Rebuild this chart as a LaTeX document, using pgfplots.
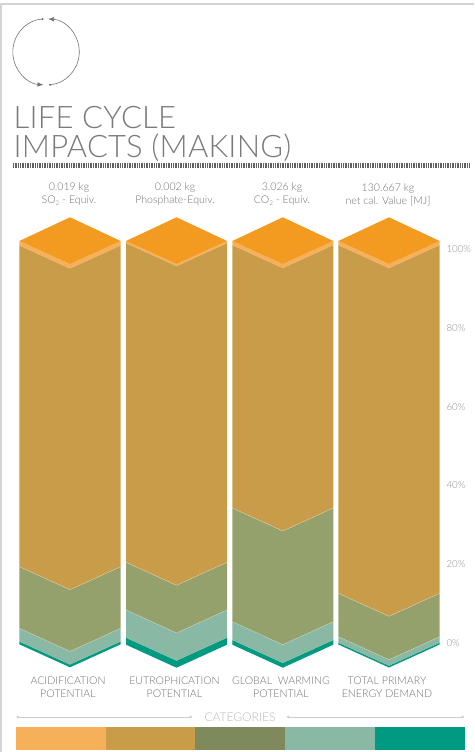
\documentclass[border=0pt]{standalone}
\usepackage{fontspec}
\setmainfont{Lato}
\newfontfamily\thinf[LetterSpace=0.7]{Lato Light}
\newfontfamily\bodyf{Lato Light}
\usepackage{pgfplots}
\pgfplotsset{compat=1.18}
\usetikzlibrary{arrows.meta}
\definecolor{ctop}{HTML}{F39A21}
\definecolor{cband}{HTML}{F6B05A}
\definecolor{ctan}{HTML}{C99C4A}
\definecolor{cgreen}{HTML}{95A16D}
\definecolor{cgreenl}{HTML}{7F8A5C}
\definecolor{clight}{HTML}{89B9A5}
\definecolor{cteal}{HTML}{009A80}
\definecolor{ctxt}{HTML}{707070}
\newcommand\sub[1]{\raisebox{-0.35ex}{\scalebox{0.6}{#1}}}
\tikzset{lab/.style={align=center,inner sep=0,text=ctxt,font=\bodyf\fontsize{10.6}{13}\selectfont}}
\pgfplotsset{seam/.style={draw=white,draw opacity=0.45,line width=0.35pt,fill=none,forget plot}}
\begin{document}
\begin{tikzpicture}
\useasboundingbox (0,0) rectangle (474pt,752pt);
% page furniture in pixel coordinates
\begin{axis}[scale only axis,width=474pt,height=752pt,xmin=0,xmax=474,ymin=0,ymax=752,y dir=reverse,hide axis,clip=false,
  area style,enlargelimits=false]
\addplot[draw=none,fill=cband] coordinates {(16,727)(106,727)(106,750)(16,750)} --cycle;
\addplot[draw=none,fill=ctan] coordinates {(106,727)(195,727)(195,750)(106,750)} --cycle;
\addplot[draw=none,fill=cgreenl] coordinates {(195,727)(285,727)(285,750)(195,750)} --cycle;
\addplot[draw=none,fill=clight] coordinates {(285,727)(375,727)(375,750)(285,750)} --cycle;
\addplot[draw=none,fill=cteal] coordinates {(375,727)(465,727)(465,750)(375,750)} --cycle;
\draw[black!17,line width=1.6pt] (1,752)--(1,4)--(474,4);
\draw[black!55,line width=0.6pt,{Latex[length=6pt,width=4.5pt]}-{Circle[length=2pt]}] (48,19) arc[start angle=87,end angle=-85,radius=33pt];
\draw[black!55,line width=0.6pt,{Circle[length=2pt]}-{Latex[length=6pt,width=4.5pt]}] (43.5,19) arc[start angle=94,end angle=266,radius=33pt];
\node[anchor=base west,inner sep=0,text=black!52,font=\thinf\fontsize{31}{31}\selectfont] at (13.5,128) {LIFE CYCLE};
\node[anchor=base west,inner sep=0,text=black!52,font=\thinf\fontsize{31}{31}\selectfont] at (13.5,157) {IMPACTS (MAKING)};
\draw[black!62,line width=5.5pt,dash pattern=on 0.9pt off 0.8pt] (13,165.7)--(470,165.7);
\node[lab] at (69,194.5) {0.019 kg\\SO\sub{2} - Equiv.};
\node[lab] at (175,194.5) {0.002 kg\\Phosphate-Equiv.};
\node[lab] at (282,194.5) {3.026 kg\\CO\sub{2} - Equiv.};
\node[lab] at (388,194.5) {130.667 kg\\net cal. Value [MJ]};
\node[lab] at (68,687.5) {ACIDIFICATION\\POTENTIAL};
\node[lab] at (174.5,687.5) {EUTROPHICATION\\POTENTIAL};
\node[lab] at (281,687.5) {GLOBAL\ \ WARMING\\POTENTIAL};
\node[lab] at (387,687.5) {TOTAL PRIMARY\\ENERGY DEMAND};
\draw[black!20,line width=1pt,{Circle[length=2.5pt]}-{Circle[length=2.5pt]}] (16.5,717)--(192,717);
\draw[black!20,line width=1pt,{Circle[length=2.5pt]}-{Circle[length=2.5pt]}] (287,717)--(464,717);
\node[inner sep=0,text=black!28,font=\bodyf\fontsize{12}{12}\selectfont] at (240,717) {CATEGORIES};
\end{axis}
% the columns: x in pixels, y in percent
\begin{axis}[scale only axis,width=474pt,height=752pt,xmin=0,xmax=474,ymin=-27.665,ymax=163.2,
  axis line style={draw=none},tick style={draw=none},xtick=\empty,
  ytick={0,20,40,60,80,100},yticklabel pos=right,
  yticklabel={\pgfmathprintnumber{\tick}\%},
  /pgf/number format/assume math mode=true,
  yticklabel style={anchor=west,xshift=-31pt,text=black!45,font=\bodyf\fontsize{9.7}{10}\selectfont},
  clip=false,area style,enlargelimits=false]
% column 1
\addplot[draw=none,fill=cteal] coordinates {(19.3,-0.33)(19.3,0.38)(70,-5.46)(120.7,0.38)(120.7,-0.33)(70,-6.17)} --cycle;
\addplot[draw=none,fill=clight] coordinates {(19.3,0.38)(19.3,3.73)(70,-2.11)(120.7,3.73)(120.7,0.38)(70,-5.46)} --cycle;
\addplot[draw=none,fill=cgreen] coordinates {(19.3,3.73)(19.3,19.37)(70,13.53)(120.7,19.37)(120.7,3.73)(70,-2.11)} --cycle;
\addplot[draw=none,fill=ctan] coordinates {(19.3,19.37)(19.3,100.9)(70,95.06)(120.7,100.9)(120.7,19.37)(70,13.53)} --cycle;
\addplot[draw=none,fill=cband] coordinates {(19.3,100.9)(19.3,102.03)(70,96.19)(120.7,102.03)(120.7,100.9)(70,95.06)} --cycle;
\addplot[draw=none,fill=ctop] coordinates {(19.3,102.03)(70,108.05)(120.7,102.03)(70,96.19)} --cycle;
\addplot[seam] coordinates {(19.3,3.73)(70,-2.11)(120.7,3.73)};
\addplot[seam] coordinates {(19.3,19.37)(70,13.53)(120.7,19.37)};
% column 2
\addplot[draw=none,fill=cteal] coordinates {(126,-0.43)(126,1.35)(176.5,-4.49)(227,1.35)(227,-0.43)(176.5,-6.27)} --cycle;
\addplot[draw=none,fill=clight] coordinates {(126,1.35)(126,8.38)(176.5,2.54)(227,8.38)(227,1.35)(176.5,-4.49)} --cycle;
\addplot[draw=none,fill=cgreen] coordinates {(126,8.38)(126,20.48)(176.5,14.64)(227,20.48)(227,8.38)(176.5,2.54)} --cycle;
\addplot[draw=none,fill=ctan] coordinates {(126,20.48)(126,101.5)(176.5,95.66)(227,101.5)(227,20.48)(176.5,14.64)} --cycle;
\addplot[draw=none,fill=cband] coordinates {(126,101.5)(126,102.03)(176.5,96.19)(227,102.03)(227,101.5)(176.5,95.66)} --cycle;
\addplot[draw=none,fill=ctop] coordinates {(126,102.03)(176.5,108.05)(227,102.03)(176.5,96.19)} --cycle;
\addplot[seam] coordinates {(126,8.38)(176.5,2.54)(227,8.38)};
\addplot[seam] coordinates {(126,20.48)(176.5,14.64)(227,20.48)};
% column 3
\addplot[draw=none,fill=cteal] coordinates {(232.3,-0.43)(232.3,0.76)(282.8,-5.08)(333.3,0.76)(333.3,-0.43)(282.8,-6.27)} --cycle;
\addplot[draw=none,fill=clight] coordinates {(232.3,0.76)(232.3,5.41)(282.8,-0.43)(333.3,5.41)(333.3,0.76)(282.8,-5.08)} --cycle;
\addplot[draw=none,fill=cgreen] coordinates {(232.3,5.41)(232.3,34.26)(282.8,28.42)(333.3,34.26)(333.3,5.41)(282.8,-0.43)} --cycle;
\addplot[draw=none,fill=ctan] coordinates {(232.3,34.26)(232.3,101)(282.8,95.16)(333.3,101)(333.3,34.26)(282.8,28.42)} --cycle;
\addplot[draw=none,fill=cband] coordinates {(232.3,101)(232.3,102.03)(282.8,96.19)(333.3,102.03)(333.3,101)(282.8,95.16)} --cycle;
\addplot[draw=none,fill=ctop] coordinates {(232.3,102.03)(282.8,108.05)(333.3,102.03)(282.8,96.19)} --cycle;
\addplot[seam] coordinates {(232.3,5.41)(282.8,-0.43)(333.3,5.41)};
\addplot[seam] coordinates {(232.3,34.26)(282.8,28.42)(333.3,34.26)};
% column 4
\addplot[draw=none,fill=cteal] coordinates {(338.3,-0.38)(338.3,0.08)(389,-5.76)(439.7,0.08)(439.7,-0.38)(389,-6.22)} --cycle;
\addplot[draw=none,fill=clight] coordinates {(338.3,0.08)(338.3,1.6)(389,-4.24)(439.7,1.6)(439.7,0.08)(389,-5.76)} --cycle;
\addplot[draw=none,fill=cgreen] coordinates {(338.3,1.6)(338.3,12.61)(389,6.77)(439.7,12.61)(439.7,1.6)(389,-4.24)} --cycle;
\addplot[draw=none,fill=ctan] coordinates {(338.3,12.61)(338.3,101)(389,95.16)(439.7,101)(439.7,12.61)(389,6.77)} --cycle;
\addplot[draw=none,fill=cband] coordinates {(338.3,101)(338.3,102.03)(389,96.19)(439.7,102.03)(439.7,101)(389,95.16)} --cycle;
\addplot[draw=none,fill=ctop] coordinates {(338.3,102.03)(389,108.05)(439.7,102.03)(389,96.19)} --cycle;
\addplot[seam] coordinates {(338.3,1.6)(389,-4.24)(439.7,1.6)};
\addplot[seam] coordinates {(338.3,12.61)(389,6.77)(439.7,12.61)};
\end{axis}
\end{tikzpicture}
\end{document}
